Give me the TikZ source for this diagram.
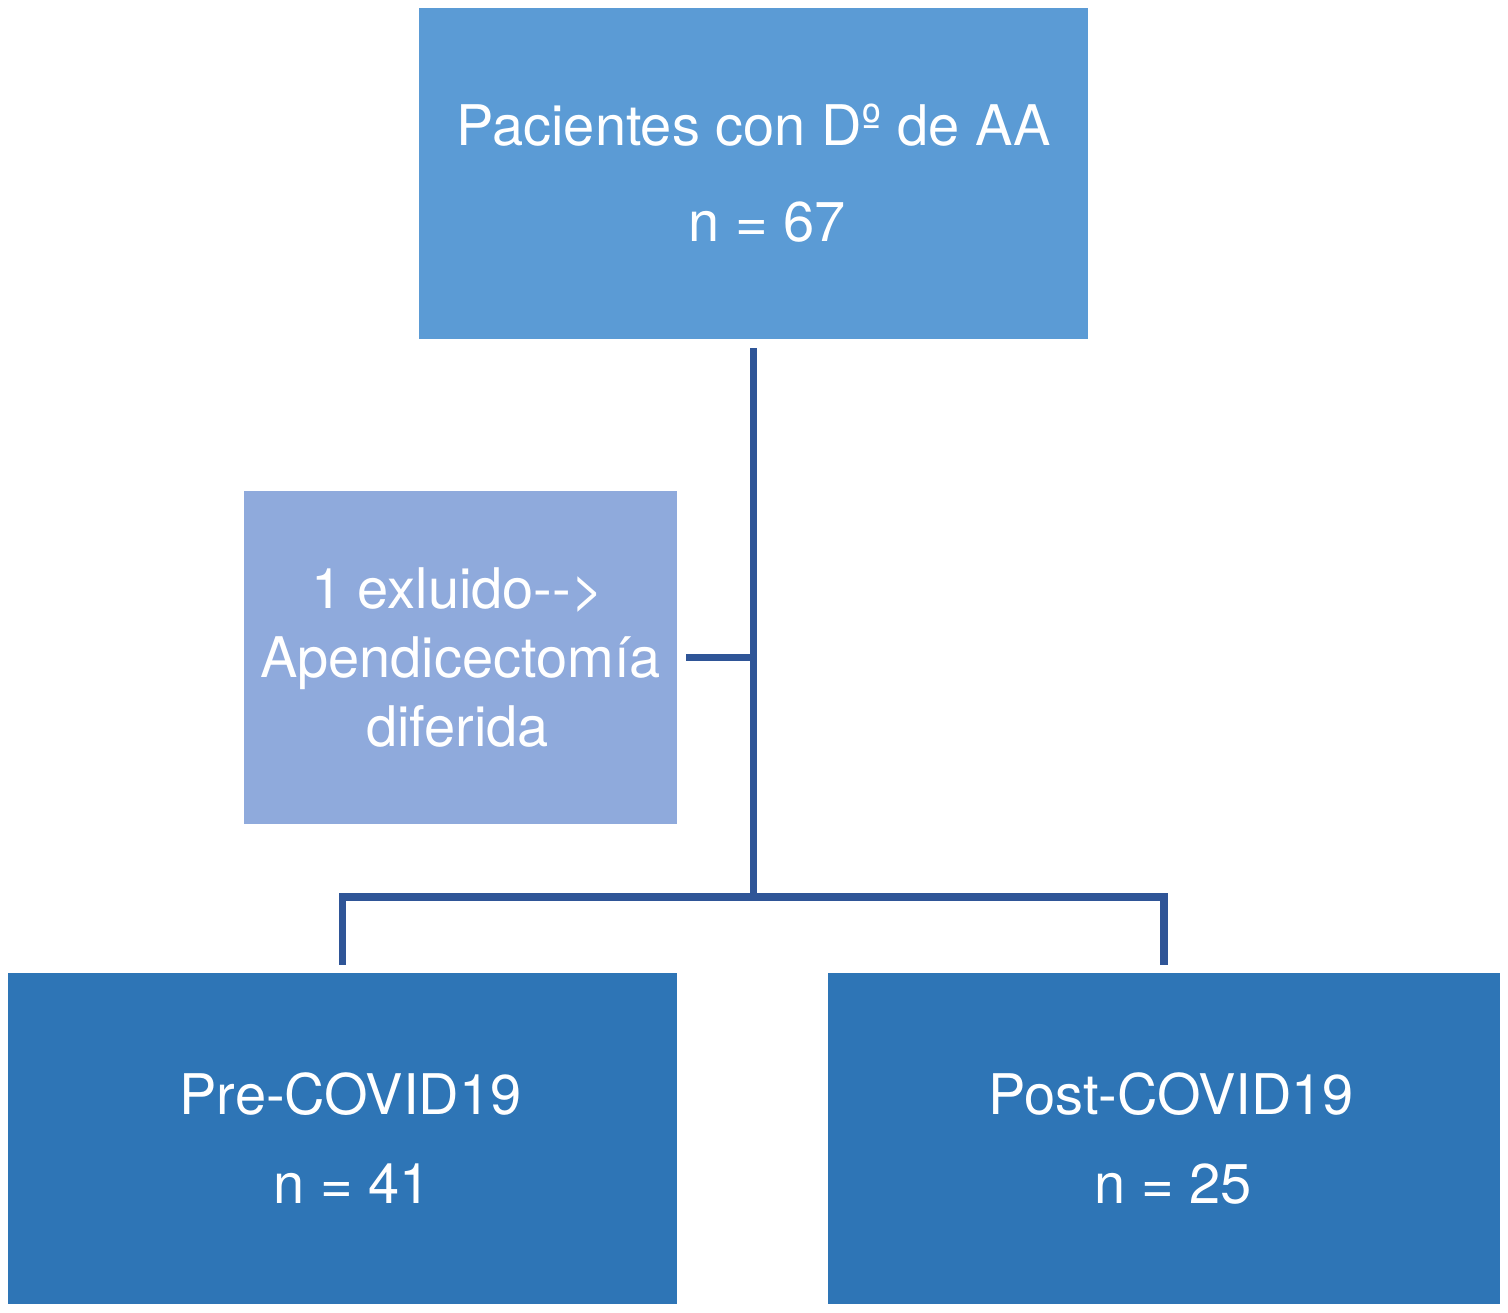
\documentclass[tikz,border=0pt]{standalone}
\usepackage{fontspec}
\setmainfont{TeX Gyre Heros}
\definecolor{topblue}{HTML}{5B9BD5}
\definecolor{midblue}{HTML}{8FAADC}
\definecolor{botblue}{HTML}{2E75B6}
\definecolor{linkblue}{HTML}{2F5597}
\tikzset{
  box/.style={rectangle, inner sep=0pt, text=white, align=center, anchor=center},
  conn/.style={draw=linkblue, line width=7.5pt, line join=miter, line cap=butt}
}
\begin{document}
\begin{tikzpicture}[x=1pt,y=-1pt]
\useasboundingbox[fill=white] (0,0) rectangle (1508,1313);
\node[box, fill=topblue, minimum width=669pt, minimum height=331pt,
      font=\fontsize{56}{96}\selectfont] (top) at (753.5,173.5)
      {Pacientes con Dº de AA\\\hspace*{28pt}n = 67};
\node[box, fill=midblue, minimum width=433pt, minimum height=333pt,
      font=\fontsize{56}{69}\selectfont] (excl) at (460.5,657.5)
      {1 exluido{-}{-}>\hspace*{6pt}\\Apendicectomía\hspace*{6pt}\\diferida\hspace*{6pt}};
\node[box, fill=botblue, minimum width=669pt, minimum height=331pt,
      font=\fontsize{56}{89}\selectfont] (pre) at (342.5,1138.5)
      {\hspace*{16pt}Pre-COVID19\\\hspace*{20pt}n = 41};
\node[box, fill=botblue, minimum width=672pt, minimum height=331pt,
      font=\fontsize{56}{89}\selectfont] (post) at (1164,1138.5)
      {\hspace*{14pt}Post-COVID19\\\hspace*{18pt}n = 25};
\coordinate (j) at (753.5,897);
\draw[conn, shorten <=9pt] (top.south) -- (top.south |- j);
\draw[conn, shorten <=9pt] (excl.east) -- (excl.east -| j);
\draw[conn, shorten <=8pt, shorten >=8pt] (pre.north) -- (pre.north |- j) -- (post.north |- j) -- (post.north);
\end{tikzpicture}
\end{document}
